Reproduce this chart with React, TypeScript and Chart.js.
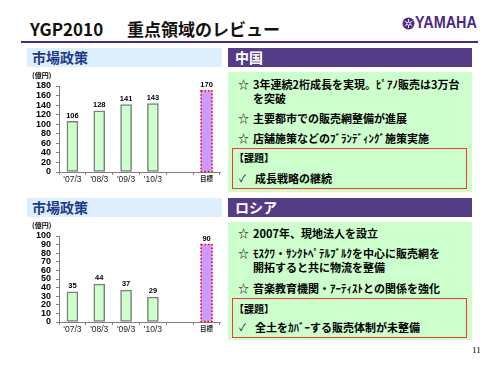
import React, { useEffect, useRef } from "react";
import { Chart, registerables } from "chart.js";

Chart.register(...registerables);

const categories = ["'07/3", "'08/3", "'09/3", "'10/3", "", "目標"];
const chinaValues = [106, 128, 141, 143, null, 170];
const russiaValues = [35, 44, 37, 29, null, 90];
const chinaTicks = [0, 20, 40, 60, 80, 100, 120, 140, 160, 180];
const russiaTicks = [0, 10, 20, 30, 40, 50, 60, 70, 80, 90, 100];
const unitLabel = "(億円)";
const targetIndex = categories.indexOf("目標");

const chinaLines = [
  { star: true, text: "3年連続2桁成長を実現。ﾋﾟｱﾉ販売は3万台", y: 84 },
  { star: false, text: "を突破", y: 98 },
  { star: true, text: "主要都市での販売網整備が進展", y: 118 },
  { star: true, text: "店舗施策などのﾌﾞﾗﾝﾃﾞｨﾝｸﾞ施策実施", y: 138 },
];
const chinaIssue = "成長戦略の継続";
const russiaLines = [
  { star: true, text: "2007年、現地法人を設立", y: 233 },
  { star: true, text: "ﾓｽｸﾜ・ｻﾝｸﾄﾍﾟﾃﾙﾌﾞﾙｸを中心に販売網を", y: 253 },
  { star: false, text: "開拓すると共に物流を整備", y: 267 },
  { star: true, text: "音楽教育機関・ｱｰﾃｨｽﾄとの関係を強化", y: 288 },
];
const russiaIssue = "全土をｶﾊﾞｰする販売体制が未整備";

const JP = '"Noto Sans CJK JP", "Noto Sans", sans-serif';
const LAT = '"Liberation Sans", Arial, sans-serif';

const barDecor = {
  id: "barDecor",
  afterDatasetsDraw(chart: any) {
    const ctx = chart.ctx;
    const meta = chart.getDatasetMeta(0);
    const data = chart.data.datasets[0].data;
    ctx.save();
    meta.data.forEach((bar: any, i: number) => {
      const v = data[i];
      if (v == null) return;
      const { x, y, base, width } = bar.getProps(["x", "y", "base", "width"], true);
      if (i === targetIndex) {
        ctx.save();
        ctx.strokeStyle = "#ff0000";
        ctx.lineWidth = 1.5;
        ctx.setLineDash([1.5, 2]);
        ctx.strokeRect(x - width / 2, y, width, base - y);
        ctx.restore();
      }
      ctx.fillStyle = "#000";
      ctx.font = `bold 7.5px ${LAT}`;
      ctx.textAlign = "center";
      ctx.textBaseline = "bottom";
      ctx.fillText(String(v), x, y - 2);
    });
    ctx.fillStyle = "#000";
    ctx.font = `bold 7px ${JP}`;
    ctx.textAlign = "left";
    ctx.textBaseline = "middle";
    ctx.fillText(unitLabel, 32, 15.5);
    ctx.restore();
  },
};

function BarChart({ values, yTicks, top }: { values: (number | null)[]; yTicks: number[]; top: number }) {
  const ref = useRef<HTMLCanvasElement>(null);
  useEffect(() => {
    const chart = new Chart(ref.current as HTMLCanvasElement, {
      type: "bar",
      data: {
        labels: categories,
        datasets: [
          {
            data: values as any,
            backgroundColor: categories.map((_, i) => (i === targetIndex ? "#cc99ff" : "#ccffcc")),
            borderColor: "#7f7f7f",
            borderWidth: categories.map((_, i) => (i === targetIndex ? 0 : 1.5)) as any,
            borderSkipped: false,
            barThickness: 11,
          },
        ],
      },
      options: {
        responsive: false,
        animation: false,
        layout: { padding: { top: 26, right: 10, left: 0, bottom: 0 } },
        plugins: { legend: { display: false }, tooltip: { enabled: false } },
        scales: {
          x: {
            grid: { display: true, drawOnChartArea: false, drawTicks: true, tickLength: 3, color: "#808080", offset: true },
            border: { color: "#808080", width: 1 },
            ticks: {
              padding: 0,
              color: "#222",
              maxRotation: 0,
              autoSkip: false,
              font: (c: any) =>
                c.index === targetIndex
                  ? { family: JP, size: 6.5, weight: "bold" }
                  : { family: LAT, size: 8.5, weight: "normal" },
            },
            afterFit: (s: any) => {
              s.height = 18;
            },
          },
          y: {
            min: 0,
            max: yTicks[yTicks.length - 1],
            grid: { drawOnChartArea: false, tickLength: 3, color: "#808080" },
            border: { color: "#808080", width: 1 },
            ticks: { padding: 5, color: "#000", autoSkip: false, font: { family: LAT, size: 9, weight: "bold" } },
            afterBuildTicks: (s: any) => {
              s.ticks = yTicks.map((v) => ({ value: v }));
            },
            afterFit: (s: any) => {
              s.width = 59;
            },
          },
        },
      } as any,
      plugins: [barDecor],
    });
    return () => chart.destroy();
  }, []);
  return (
    <canvas
      ref={ref}
      width={230}
      height={130}
      style={{ position: "absolute", left: 0, top, width: 230, height: 130 }}
    />
  );
}

function Line({ star, text, y, check }: { star?: boolean; text: string; y: number; check?: boolean }) {
  return (
    <>
      {star && (
        <div style={{ position: "absolute", left: 238, top: y - 7, height: 14, lineHeight: "14px", fontSize: 11, fontFamily: JP }}>☆</div>
      )}
      {check && (
        <div style={{ position: "absolute", left: 239, top: y - 7, height: 14, lineHeight: "14px", fontSize: 10, fontFamily: JP }}>✓</div>
      )}
      <div
        style={{
          position: "absolute",
          left: check ? 255 : 253,
          top: y - 7,
          height: 14,
          lineHeight: "14px",
          fontSize: 11,
          fontWeight: "bold",
          fontFamily: JP,
          whiteSpace: "nowrap",
          color: "#000",
        }}
      >
        {text}
      </div>
    </>
  );
}

function Panel({ title, top, lines, issue, boxTop, boxH, issueY, checkY, redTop, redH }: any) {
  return (
    <>
      <div style={{ position: "absolute", left: 27, top, width: 195, height: 19, background: "#ddeefc" }}>
        <div style={{ position: "absolute", left: 5, top: 0, lineHeight: "19px", fontSize: 14, fontWeight: "bold", color: "#1f3c8c", fontFamily: JP }}>市場政策</div>
      </div>
      <div style={{ position: "absolute", left: 228, top, width: 244, height: 19, background: "#553c87" }}>
        <div style={{ position: "absolute", left: 7, top: 0, lineHeight: "19px", fontSize: 14, fontWeight: "bold", color: "#fff", fontFamily: JP }}>{title}</div>
      </div>
      <div style={{ position: "absolute", left: 228, top: boxTop, width: 244, height: boxH, background: "#ccffcc" }} />
      <div style={{ position: "absolute", left: 232, top: redTop, width: 235, height: redH, border: "1.5px solid #ff3333", boxSizing: "border-box" }} />
      {lines.map((l: any, i: number) => (
        <Line key={i} star={l.star} text={l.text} y={l.y} />
      ))}
      <div style={{ position: "absolute", left: 234, top: issueY - 7, height: 14, lineHeight: "14px", fontSize: 10, fontWeight: "bold", fontFamily: JP, whiteSpace: "nowrap" }}>【課題】</div>
      <Line check text={issue} y={checkY} />
    </>
  );
}

export default function App() {
  return (
    <div style={{ position: "absolute", left: 0, top: 0, width: 500, height: 375, background: "#fff", overflow: "hidden", fontFamily: JP }}>
      <div style={{ position: "absolute", left: 30, top: 20, lineHeight: "17px", fontSize: 17, fontWeight: "bold", color: "#111", fontFamily: JP }}>YGP2010</div>
      <div style={{ position: "absolute", left: 127, top: 20, lineHeight: "17px", fontSize: 17, fontWeight: "bold", color: "#111", fontFamily: JP, whiteSpace: "nowrap" }}>重点領域のレビュー</div>
      <div style={{ position: "absolute", left: 21, top: 41, width: 457, height: 2, background: "#4b2a85" }} />
      <svg style={{ position: "absolute", left: 402, top: 17 }} width={13} height={13} viewBox="0 0 13 13">
        <circle cx={6.5} cy={6.5} r={6} fill="#4b2a85" />
        <g stroke="#fff" strokeWidth={0.9}>
          <line x1={6.5} y1={2} x2={6.5} y2={11} />
          <line x1={2.6} y1={4.2} x2={10.4} y2={8.8} />
          <line x1={2.6} y1={8.8} x2={10.4} y2={4.2} />
        </g>
        <circle cx={6.5} cy={6.5} r={1.6} fill="#4b2a85" stroke="#fff" strokeWidth={0.8} />
      </svg>
      <div style={{ position: "absolute", left: 415, top: 15, lineHeight: "16px", fontSize: 16, fontWeight: "bold", color: "#4b2a85", fontFamily: LAT, transform: "scaleX(0.9)", transformOrigin: "left center", whiteSpace: "nowrap" }}>YAMAHA</div>

      <Panel title="中国" top={48} lines={chinaLines} issue={chinaIssue} boxTop={72} boxH={120} issueY={158} checkY={178} redTop={148} redH={41} />
      <Panel title="ロシア" top={198} lines={russiaLines} issue={russiaIssue} boxTop={222} boxH={118} issueY={309} checkY={327} redTop={298} redH={40} />

      <BarChart values={chinaValues} yTicks={chinaTicks} top={60} />
      <BarChart values={russiaValues} yTicks={russiaTicks} top={210} />

      <div style={{ position: "absolute", left: 472, top: 344, lineHeight: "12px", fontSize: 9, fontFamily: '"Liberation Serif", serif', color: "#000" }}>11</div>
    </div>
  );
}
